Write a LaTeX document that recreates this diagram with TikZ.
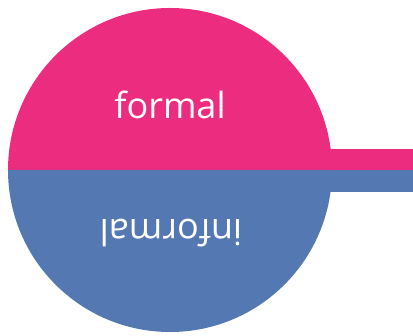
\documentclass[tikz,border=0pt]{standalone}
\usepackage{fontspec}
\setmainfont{Open Sans}
\definecolor{cFormal}{RGB}{236,44,127}
\definecolor{cInformal}{RGB}{84,120,178}

\begin{document}
\begin{tikzpicture}[x=1pt,y=1pt]
\useasboundingbox (0,0) rectangle (413,336);
\fill[cFormal] (8,166) arc[start angle=180,end angle=0,radius=162] -- cycle;
\fill[cInformal] (8,166) arc[start angle=180,end angle=360,radius=162] -- cycle;
\fill[cFormal] (329,166) rectangle (413,187);
\fill[cInformal] (329,144) rectangle (413,166);
\node[anchor=base,text=white,font=\fontsize{36}{40}\selectfont] (formal) at (170,217) {formal};
\node[anchor=base,rotate=180,text=white,font=\fontsize{36}{40}\selectfont] (informal) at (171,116) {informal};
\end{tikzpicture}
\end{document}
